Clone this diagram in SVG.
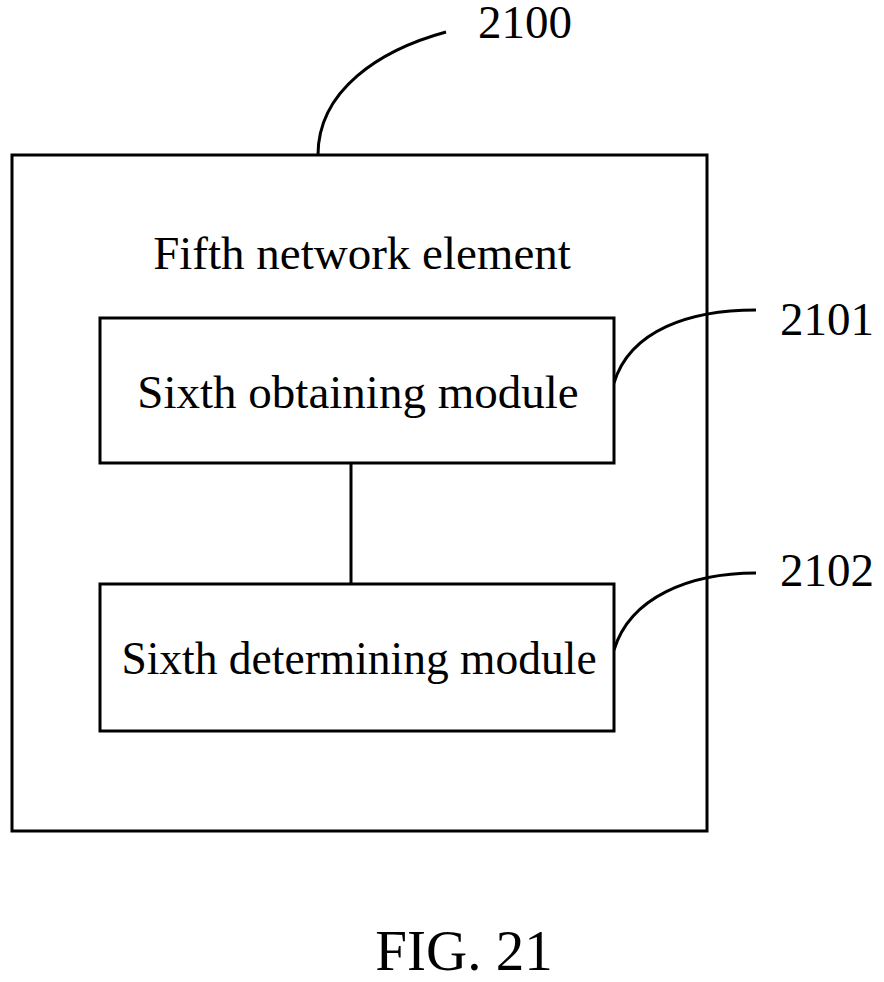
<svg xmlns="http://www.w3.org/2000/svg" width="884" height="982" viewBox="0 0 884 982">
<style>
.b{fill:#fff;stroke:#000;stroke-width:3}
.l{fill:none;stroke:#000;stroke-width:3}
text{font-family:"Liberation Serif",serif;fill:#000}
</style>
<rect width="884" height="982" fill="#fff"/>
<g id="outer"><rect class="b" x="12" y="155" width="695" height="676"/>
<text x="362" y="269" font-size="47" text-anchor="middle">Fifth network element</text></g>
<g id="connectors">
<line class="l" x1="351" y1="463" x2="351" y2="584"/>
<path class="l" d="M318 155 C318 90 380 50 446 32"/>
<path class="l" d="M614 383 C630 330 690 310 756 310"/>
<path class="l" d="M614 650 C630 597 690 573 756 573"/>
</g>
<g id="m2101"><rect class="b" x="100" y="318" width="514" height="145"/>
<text x="358" y="408" font-size="47" text-anchor="middle">Sixth obtaining module</text></g>
<g id="m2102"><rect class="b" x="100" y="584" width="514" height="147"/>
<text x="359" y="674" font-size="45.5" text-anchor="middle">Sixth determining module</text></g>
<text x="478" y="38" font-size="47">2100</text>
<text x="780" y="335" font-size="47">2101</text>
<text x="780" y="586" font-size="47">2102</text>
<text x="464" y="970" font-size="57" text-anchor="middle">FIG. 21</text>
</svg>
